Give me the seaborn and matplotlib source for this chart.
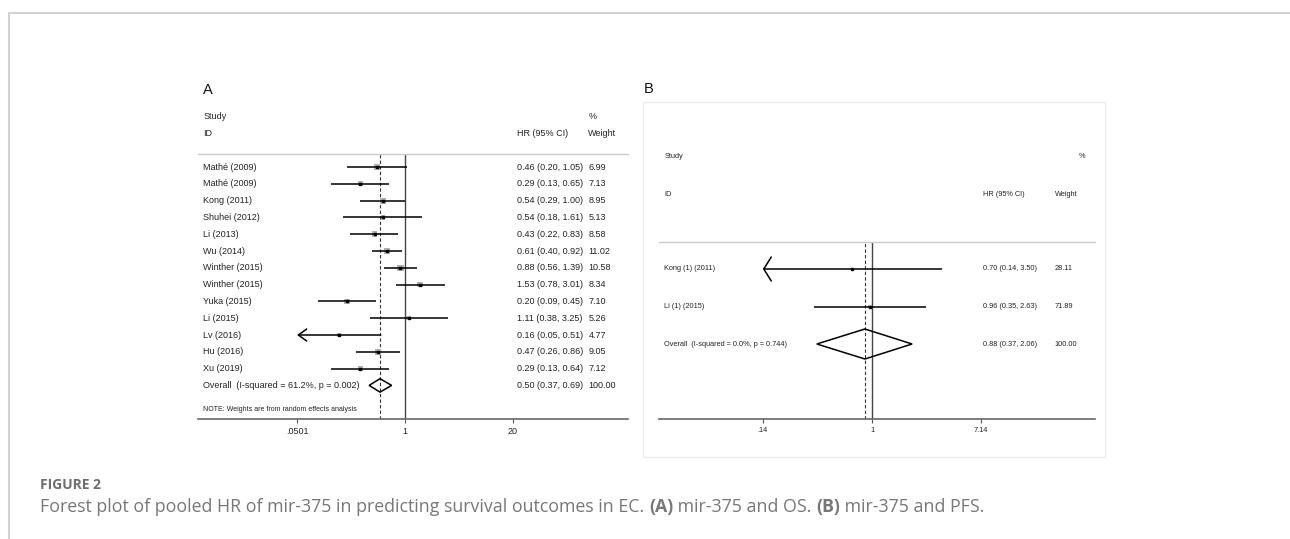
import numpy as np
import pandas as pd
import seaborn as sns
import matplotlib.pyplot as plt
from matplotlib.patches import Polygon, Rectangle
from matplotlib.lines import Line2D

# ---- data: panel A (OS) ----
studies_a = ['Mathé (2009)', 'Mathé (2009)', 'Kong (2011)', 'Shuhei (2012)', 'Li (2013)',
             'Wu (2014)', 'Winther (2015)', 'Winther (2015)', 'Yuka (2015)', 'Li (2015)',
             'Lv (2016)', 'Hu (2016)', 'Xu (2019)']
hr_a = [0.46, 0.29, 0.54, 0.54, 0.43, 0.61, 0.88, 1.53, 0.20, 1.11, 0.16, 0.47, 0.29]
lo_a = [0.20, 0.13, 0.29, 0.18, 0.22, 0.40, 0.56, 0.78, 0.09, 0.38, 0.05, 0.26, 0.13]
hi_a = [1.05, 0.65, 1.00, 1.61, 0.83, 0.92, 1.39, 3.01, 0.45, 3.25, 0.51, 0.86, 0.64]
wt_a = [6.99, 7.13, 8.95, 5.13, 8.58, 11.02, 10.58, 8.34, 7.10, 5.26, 4.77, 9.05, 7.12]
overall_a = [0.50, 0.37, 0.69]
overall_label_a = 'Overall  (I-squared = 61.2%, p = 0.002)'
ticks_a = [0.0501, 1, 20]
tick_labels_a = ['.0501', '1', '20']

# ---- data: panel B (PFS) ----
studies_b = ['Kong (1) (2011)', 'Li (1) (2015)']
hr_b = [0.70, 0.96]
lo_b = [0.14, 0.35]
hi_b = [3.50, 2.63]
wt_b = [28.11, 71.89]
overall_b = [0.88, 0.37, 2.06]
overall_label_b = 'Overall  (I-squared = 0.0%, p = 0.744)'
ticks_b = [0.14, 1, 7.14]
tick_labels_b = ['.14', '1', '7.14']

W, H = 1290, 539

sns.set_theme(style='white')
plt.rcParams['font.family'] = ['Liberation Sans', 'DejaVu Sans']

fig = plt.figure(figsize=(W / 100, H / 100), dpi=100)
fig.patch.set_facecolor('white')


def rect(x0, y0, x1, y1):
    return [x0 / W, 1 - y1 / H, (x1 - x0) / W, (y1 - y0) / H]


def forest(ax, studies, hr, lo, hi, wt, overall, overall_label, ticks, tick_labels,
           px_left, px_right, px_one, px_per_ln, ylim, fs, size_k, head, note=None):
    n = len(studies)
    rows = np.arange(n)
    ax.set_xscale('log')
    ax.set_xlim(np.exp((px_left - px_one) / px_per_ln), np.exp((px_right - px_one) / px_per_ln))
    ax.set_ylim(*ylim)

    ax.axvline(1, color='#444444', lw=1.0, zorder=1)
    ax.axvline(overall[0], color='#333333', lw=0.8, ls=(0, (3, 2)), zorder=1)

    df = pd.DataFrame({'hr': hr, 'row': rows, 'w': wt})
    sns.scatterplot(data=df, x='hr', y='row', size='w', size_norm=(0, 100),
                    sizes=(0, size_k * 100), marker='s', color='#b0b0b0',
                    edgecolor='none', legend=False, ax=ax, zorder=2)

    lim = ticks[0]
    for r, l, h in zip(rows, lo, hi):
        if l <= lim:
            # CI runs past the axis range: draw an arrow to the edge
            ax.annotate('', xy=(lim, r), xytext=(h, r),
                        arrowprops=dict(arrowstyle='->,head_length=%.2f,head_width=%.2f' % head,
                                        lw=1.1, color='black', shrinkA=0, shrinkB=0))
        else:
            ax.hlines(r, l, h, color='black', lw=1.1, zorder=3)
    ax.plot(hr, rows, 's', ms=1.8, color='black', zorder=4)

    est, olo, ohi = overall
    yo = n
    dh = 0.4
    ax.add_patch(Polygon([(olo, yo), (est, yo - dh), (ohi, yo), (est, yo + dh)],
                         closed=True, fill=False, ec='black', lw=1.1, zorder=3))

    tr = ax.get_yaxis_transform()
    col_name, col_hr, col_w = 0.012, 0.742, 0.908
    kw = dict(transform=tr, va='center', fontsize=fs, color='#222222')
    for r, s, h, l, u, w in zip(rows, studies, hr, lo, hi, wt):
        ax.text(col_name, r, s, **kw)
        ax.text(col_hr, r, '%.2f (%.2f, %.2f)' % (h, l, u), **kw)
        ax.text(col_w, r, '%.2f' % w, **kw)
    ax.text(col_name, yo, overall_label, **kw)
    ax.text(col_hr, yo, '%.2f (%.2f, %.2f)' % (est, olo, ohi), **kw)
    ax.text(col_w, yo, '100.00', **kw)

    ax.text(col_name, -3, 'Study', **kw)
    ax.text(col_name, -2, 'ID', **kw)
    ax.text(col_hr, -2, 'HR (95% CI)', **kw)
    ax.text(col_w, -2, 'Weight', **kw)
    if note is not None:
        ax.text(col_name, note[1], note[0], transform=tr, va='center', fontsize=fs * 0.78,
                color='#222222')

    ax.set_xticks(ticks, tick_labels)
    ax.minorticks_off()
    ax.set_yticks([])
    ax.tick_params(axis='x', bottom=True, length=3, width=0.8, color='#555555',
                   labelsize=fs, labelcolor='#222222', pad=3)
    ax.set_xlabel('')
    ax.set_ylabel('')
    for side in ['left', 'right']:
        ax.spines[side].set_visible(False)
    ax.spines['top'].set_color('#cccccc')
    ax.spines['top'].set_linewidth(1.0)
    ax.spines['bottom'].set_color('#666666')
    ax.spines['bottom'].set_linewidth(1.2)
    ax.patch.set_alpha(0)
    return tr


# panel A
axA = fig.add_axes(rect(198, 154, 628, 419))
trA = forest(axA, studies_a, hr_a, lo_a, hi_a, wt_a, overall_a, overall_label_a,
             ticks_a, tick_labels_a, 198, 628, 405, 36.06, (15.0, -0.774), 6.5, 2.07,
             (0.5, 0.36), note=('NOTE: Weights are from random effects analysis', 14.45))
axA.text(0.908, -3, '%', transform=trA, va='center', fontsize=6.5, color='#222222')

# panel B
fig.add_artist(Rectangle((643 / W, 1 - 457 / H), (1105 - 643) / W, (457 - 102) / H,
                         transform=fig.transFigure, fill=False, ec='#ebebeb', lw=1.0))
axB = fig.add_axes(rect(659, 242, 1095, 419))
trB = forest(axB, studies_b, hr_b, lo_b, hi_b, wt_b, overall_b, overall_label_b,
             ticks_b, tick_labels_b, 659, 1095, 872, 55.5, (4.0, -0.72), 5.3, 0.115,
             (0.45, 0.72))
axB.text(0.962, -3, '%', transform=trB, va='center', fontsize=5.3, color='#222222')

# panel letters
fig.text(203 / W, 1 - 90 / H, 'A', fontsize=10.5, va='center', color='#111111')
fig.text(644 / W, 1 - 89 / H, 'B', fontsize=10.5, va='center', color='#111111')

# page frame
fig.add_artist(Line2D([9 / W, 1], [1 - 13 / H, 1 - 13 / H], color='#d2d2d2', lw=1.5))
fig.add_artist(Line2D([9 / W, 9 / W], [0, 1 - 13 / H], color='#d2d2d2', lw=1.5))

# caption
cap_font = ['Open Sans', 'DejaVu Sans']
fig.text(40 / W, 1 - 485 / H, 'FIGURE 2', fontsize=10, fontweight='bold', va='center',
         color='#6e6e6e', family=cap_font)
pieces = [('Forest plot of pooled HR of mir-375 in predicting survival outcomes in EC. ', 'normal'),
          ('(A)', 'bold'), (' mir-375 and OS. ', 'normal'), ('(B)', 'bold'),
          (' mir-375 and PFS.', 'normal')]
prev = fig.text(40 / W, 1 - 507 / H, pieces[0][0], fontsize=12.8, va='center',
                color='#777777', family=cap_font)
for txt, wgt in pieces[1:]:
    prev = axA.annotate(txt, xy=(1, 0), xycoords=prev, va='bottom',
                        fontsize=12.8, fontweight=wgt, color='#777777',
                        family=cap_font, annotation_clip=False)

fig.savefig('out.png', dpi=100, facecolor='white')
